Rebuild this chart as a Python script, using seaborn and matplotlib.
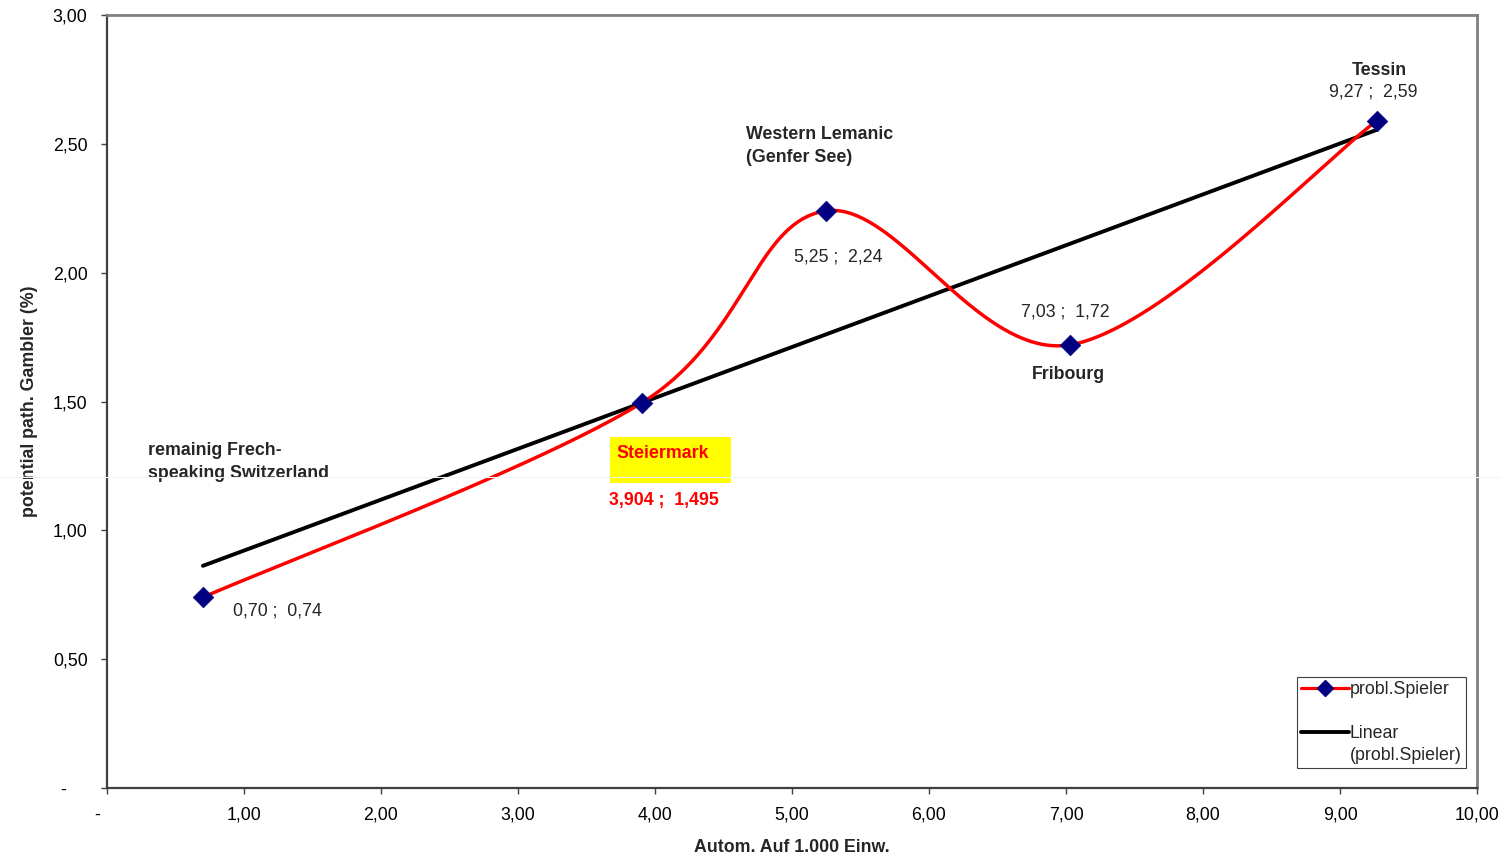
import numpy as np
import matplotlib
matplotlib.use("Agg")
import matplotlib.pyplot as plt
import matplotlib.transforms as mtransforms
from matplotlib.lines import Line2D
from matplotlib.patches import Rectangle
import seaborn as sns

# Slot machines per 1,000 inhabitants vs. share of potential pathological gamblers
automaten = [0.70, 3.904, 5.25, 7.03, 9.27]
spieler = [0.74, 1.495, 2.24, 1.72, 2.59]

x_ticks = [0, 1, 2, 3, 4, 5, 6, 7, 8, 9, 10]
x_tick_labels = ["-", "1,00", "2,00", "3,00", "4,00", "5,00", "6,00", "7,00", "8,00", "9,00", "10,00"]
y_ticks = [0, 0.5, 1.0, 1.5, 2.0, 2.5, 3.0]
y_tick_labels = ["-", "0,50", "1,00", "1,50", "2,00", "2,50", "3,00"]

series_label = "probl.Spieler"
trend_label = ["Linear", "(probl.Spieler)"]
x_title = "Autom. Auf 1.000 Einw."
y_title = "potential path. Gambler (%)"

FS = 12.8


def fmt(v, nd=2):
    return f"{v:.{nd}f}".replace(".", ",")


def smooth_bezier(xs, ys, n=80):
    """Spreadsheet-style smoothed line: cubic Bezier segments with
    control points derived from neighbouring points (tension 1/6)."""
    P = np.column_stack([xs, ys]).astype(float)
    ext = np.vstack([P[0], P, P[-1]])
    t = np.linspace(0, 1, n)[:, None]
    parts = []
    for i in range(len(P) - 1):
        p0, p1 = P[i], P[i + 1]
        c1 = p0 + (ext[i + 2] - ext[i]) / 6.0
        c2 = p1 - (ext[i + 3] - ext[i + 1]) / 6.0
        seg = (1 - t) ** 3 * p0 + 3 * (1 - t) ** 2 * t * c1 + 3 * (1 - t) * t ** 2 * c2 + t ** 3 * p1
        parts.append(seg if i == 0 else seg[1:])
    return np.vstack(parts)


sns.set_style("ticks")
plt.rcParams["font.family"] = ["Liberation Sans", "DejaVu Sans"]
plt.rcParams["font.size"] = FS

fig = plt.figure(figsize=(15.01, 8.56), dpi=100)
ax = fig.add_axes([107 / 1501, 1 - 788 / 856, 1370 / 1501, 773 / 856])

# highlighted region box
ax.add_patch(Rectangle((3.672, 1.184), 0.883, 0.178, facecolor="#ffff00",
                       edgecolor="none", zorder=1))

# linear trend line
sns.regplot(x=np.array(automaten), y=np.array(spieler), scatter=False, ci=None,
            truncate=True, color="black", line_kws={"lw": 2.8, "zorder": 3}, ax=ax)

# smoothed series
curve = smooth_bezier(automaten, spieler)
sns.lineplot(x=curve[:, 0], y=curve[:, 1], sort=False, estimator=None,
             color="#ff0000", lw=2.5, ax=ax, zorder=4)
sns.scatterplot(x=automaten, y=spieler, marker="D", s=110, color="#000080",
                edgecolor="#000080", linewidth=0.5, ax=ax, zorder=5)

ax.set_xlim(0, 10)
ax.set_ylim(0, 3)
ax.set_xticks(x_ticks)
ax.set_xticklabels(x_tick_labels)
ax.set_yticks(y_ticks)
ax.set_yticklabels(y_tick_labels)
ax.tick_params(axis="both", direction="out", length=4, width=1, color="#404040",
               labelsize=FS, labelcolor="black")
ax.tick_params(axis="x", pad=9.5)
ax.tick_params(axis="y", pad=10)

# the "-" zero labels sit slightly apart from the others
ax.get_xticklabels()[0].set_transform(
    ax.get_xticklabels()[0].get_transform()
    + mtransforms.ScaledTranslation(-0.10, 0, fig.dpi_scale_trans))
ax.get_yticklabels()[0].set_transform(
    ax.get_yticklabels()[0].get_transform()
    + mtransforms.ScaledTranslation(-0.21, 0, fig.dpi_scale_trans))

for side in ["left", "bottom"]:
    ax.spines[side].set_color("#404040")
    ax.spines[side].set_linewidth(1.6)
for side in ["top", "right"]:
    ax.spines[side].set_color("#808080")
    ax.spines[side].set_linewidth(2.0)

ax.set_xlabel(x_title, fontweight="bold", fontsize=FS)
ax.xaxis.set_label_coords(0.5, -0.0655)
ax.set_ylabel(y_title, fontweight="bold", fontsize=FS)
ax.yaxis.set_label_coords(-0.0505, 0.5)

dy = -0.008
# value labels
ax.text(1.241, 0.695 + dy, f"{fmt(automaten[0])} ;  {fmt(spieler[0])}", ha="center", va="center", fontsize=FS)
ax.text(5.336, 2.069 + dy, f"{fmt(automaten[2])} ;  {fmt(spieler[2])}", ha="center", va="center", fontsize=FS)
ax.text(6.993, 1.855 + dy, f"{fmt(automaten[3])} ;  {fmt(spieler[3])}", ha="center", va="center", fontsize=FS)
ax.text(9.24, 2.709 + dy, f"{fmt(automaten[4])} ;  {fmt(spieler[4])}", ha="center", va="center", fontsize=FS)
ax.text(4.066, 1.125 + dy, f"{fmt(automaten[1], 3)} ;  {fmt(spieler[1], 3)}", ha="center", va="center",
        fontsize=FS, fontweight="bold", color="#ff0000")

# region names
ax.text(9.285, 2.794 + dy, "Tessin", ha="center", va="center", fontsize=FS, fontweight="bold")
ax.text(4.664, 2.546 + dy, "Western Lemanic", ha="left", va="center", fontsize=FS, fontweight="bold")
ax.text(4.664, 2.456 + dy, "(Genfer See)", ha="left", va="center", fontsize=FS, fontweight="bold")
ax.text(7.015, 1.614 + dy, "Fribourg", ha="center", va="center", fontsize=FS, fontweight="bold")
ax.text(0.299, 1.3195 + dy, "remainig Frech-", ha="left", va="center", fontsize=FS, fontweight="bold")
ax.text(0.299, 1.230 + dy, "speaking Switzerland", ha="left", va="center", fontsize=FS, fontweight="bold")
ax.text(3.715, 1.308 + dy, "Steiermark", ha="left", va="center", fontsize=FS, fontweight="bold",
        color="#ff0000")

# legend
h_series = Line2D([], [], color="#ff0000", lw=2.3, marker="D", markersize=8,
                  markerfacecolor="#000080", markeredgecolor="#000080")
h_blank = Line2D([], [], color="none")
h_trend = Line2D([], [], color="black", lw=2.8)
leg = ax.legend([h_series, h_blank, h_trend, h_blank],
                [series_label, " ", trend_label[0], trend_label[1]],
                loc="upper left", bbox_to_anchor=(1297 / 1501, 1 - 677 / 856),
                bbox_transform=fig.transFigure, borderaxespad=0, borderpad=0.25,
                handlelength=2.65, handletextpad=0.08, labelspacing=0.27,
                fancybox=False, framealpha=1, edgecolor="#404040", fontsize=FS)
leg.get_frame().set_linewidth(0.8)

# faint horizontal rule across the sheet
fig.add_artist(Line2D([0, 1], [1 - 477 / 856, 1 - 477 / 856], transform=fig.transFigure,
                      color="#edf5fc", lw=0.8, zorder=10))

fig.savefig("out.png", dpi=100)
